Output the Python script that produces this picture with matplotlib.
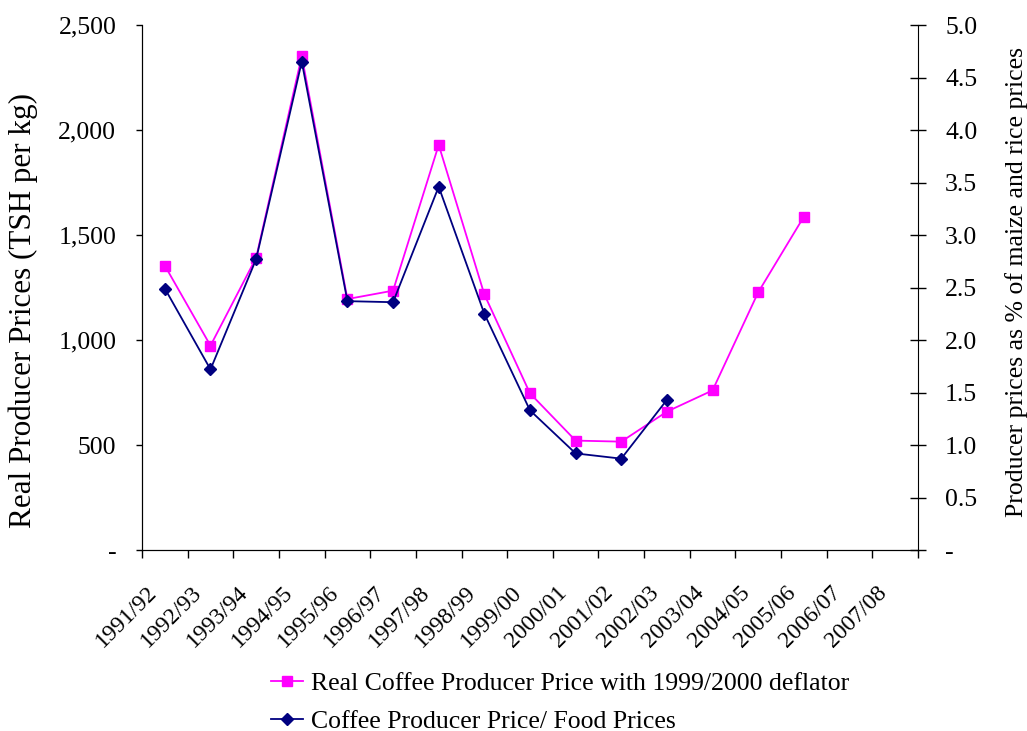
import matplotlib
matplotlib.use("Agg")
import matplotlib.pyplot as plt
from matplotlib.ticker import FixedLocator, FuncFormatter, NullFormatter
from matplotlib.transforms import ScaledTranslation
import numpy as np

seasons = ["1991/92", "1992/93", "1993/94", "1994/95", "1995/96", "1996/97",
           "1997/98", "1998/99", "1999/00", "2000/01", "2001/02", "2002/03",
           "2003/04", "2004/05", "2005/06", "2006/07", "2007/08"]

# real producer price, TSH per kg (left axis)
real_price = [1354, 973, 1392, 2352, 1195, 1235, 1929, 1217, 746, 521, 516,
              659, 760, 1227, 1587]
# producer price relative to maize and rice prices (right axis)
food_ratio = [2.49, 1.72, 2.77, 4.65, 2.37, 2.36, 3.46, 2.25, 1.33, 0.92,
              0.87, 1.43]

plt.rcParams["font.family"] = "Liberation Serif"
plt.rcParams["font.size"] = 18.5

fig = plt.figure(figsize=(10.27, 7.31), dpi=100)
ax = fig.add_axes([0.1383, 0.2476, 0.7555, 0.7182])
ax2 = ax.twinx()

x_real = np.arange(len(real_price)) + 0.5
x_food = np.arange(len(food_ratio)) + 0.5

l1, = ax.plot(x_real, real_price, color="#FF00FF", lw=1.3, marker="s",
              ms=7.5, label="Real Coffee Producer Price with 1999/2000 deflator")
l2, = ax2.plot(x_food, food_ratio, color="#000080", lw=1.3, marker="D",
               ms=6, label="Coffee Producer Price/ Food Prices")

ax.set_xlim(0, len(seasons))
ax.set_ylim(0, 2500)
ax2.set_ylim(0, 5)

ax.set_yticks(np.arange(0, 2501, 500))
ax.yaxis.set_major_formatter(FuncFormatter(lambda v, p: "-" if v == 0 else f"{v:,.0f}"))
ax2.set_yticks(np.arange(0, 5.01, 0.5))
ax2.yaxis.set_major_formatter(FuncFormatter(lambda v, p: "-" if v == 0 else f"{v:.1f}"))

# ticks on the category boundaries, season labels under the centres
ax.xaxis.set_major_locator(FixedLocator(np.arange(0, len(seasons) + 1)))
ax.xaxis.set_major_formatter(NullFormatter())
ax.tick_params(axis="x", length=6, width=1, direction="out")
lab_tf = ax.get_xaxis_transform() + ScaledTranslation(-0.19, -0.32, fig.dpi_scale_trans)
for i, s in enumerate(seasons):
    ax.text(i + 0.5, 0, s, transform=lab_tf, rotation=45, ha="right",
            va="top", rotation_mode="anchor", fontsize=17)

ax.tick_params(axis="y", length=4.5, width=1, direction="out", pad=14)
ax2.tick_params(axis="y", length=11, width=1, direction="inout", pad=14)

for a in (ax, ax2):
    a.spines["top"].set_visible(False)
ax.spines["right"].set_visible(False)

ax.set_ylabel("Real Producer Prices (TSH per kg)", fontsize=22.4)
ax.yaxis.set_label_coords(-0.134, 0.457)
ax2.set_ylabel("Producer prices as % of maize and rice prices")
ax2.yaxis.set_label_coords(1.112, 0.51)

fig.legend(handles=[l1, l2], loc="upper left", bbox_to_anchor=(0.254, 0.095),
           frameon=False, handlelength=1.25, handletextpad=0.3,
           labelspacing=0.58, borderaxespad=0)

fig.savefig("out.png", dpi=100)
